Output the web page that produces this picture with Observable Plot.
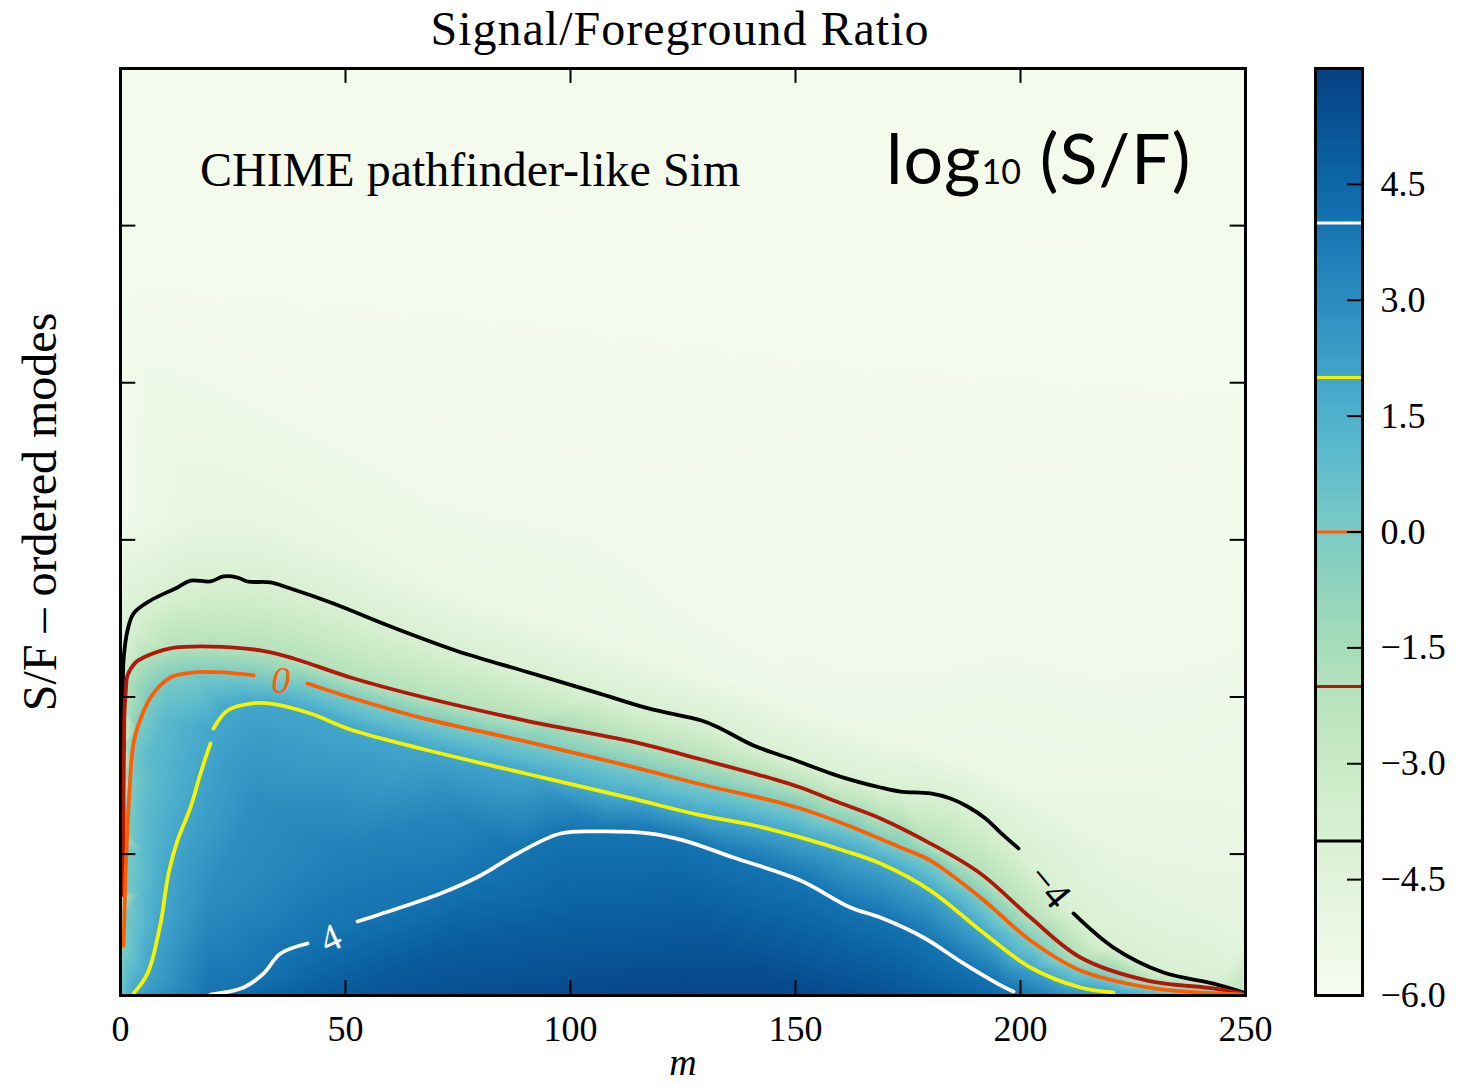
<!DOCTYPE html>
<html>
<head>
<meta charset="utf-8">
<script src="https://cdn.jsdelivr.net/npm/d3@7"></script>
<script src="https://cdn.jsdelivr.net/npm/@observablehq/plot@0.6"></script>
<style>
  body { margin: 0; background: #fff; }
  #wrap { position: relative; width: 1467px; height: 1087px; overflow: hidden; font-family: "Liberation Serif", serif; color: #000; }
  #title { position: absolute; left: 80px; width: 1200px; top: 5px; text-align: center; font-size: 48px; line-height: 1; letter-spacing: 1px; white-space: nowrap; }
  #sim { position: absolute; left: 200px; top: 146px; font-size: 48px; line-height: 1; white-space: nowrap; }
  #logtag { position: absolute; left: 886px; top: 122px; font-family: Lato, sans-serif; font-size: 70px; line-height: 1; letter-spacing: 1px; white-space: nowrap; }
  #logtag .sub { font-size: 34px; letter-spacing: 0; }
  #main { position: absolute; left: 0; top: 0; }
  #cbar { position: absolute; left: 1300px; top: 0; }
</style>
</head>
<body>
<div id="wrap">
  <div id="main"></div>
  <div id="cbar"></div>
  <div id="title">Signal/Foreground Ratio</div>
  <div id="sim">CHIME pathfinder-like Sim</div>
  <div id="logtag">log<span class="sub">10</span> (S/F)</div>
</div>
<script>
// ---------- data ----------
const xTicks = [0, 50, 100, 150, 200, 250];
const yTicks = [90, 190, 290, 390, 490];
const cbTicks = [-6, -4.5, -3, -1.5, 0, 1.5, 3, 4.5];
const levels = [-4, -2, 0, 2, 4];
const levelColors = ["#000000", "#b0180a", "#ff5e00", "#f4f400", "#ffffff"];

// contour paths [m, mode-rank]; null = gap where a contour label sits
const blackPts = [[0.44,95.5],[0.44,120],[0.44,140],[0.44,160],[0.44,180],[0.55,200],[0.67,213.2],[1.56,232.3],[2.89,243.1],[6.67,251.4],[12.67,259.7],[15.56,264.1],[20.0,263.5],[22.89,266.7],[26.0,266.0],[28.22,263.5],[33.33,262.9],[37.11,259.7],[47.33,249.5],[58.89,236.1],[74.44,219.6],[90.0,206.2],[105.78,192.8],[117.33,182.7],[129.11,175.0],[132.89,170.6],[140.67,159.1],[148.89,150.8],[160.67,138.7],[168.89,132.4],[173.33,129.8],[180.0,128.6],[184.44,125.4],[188.22,120.3],[192.22,112.7],[195.56,103.7],[199.56,93.6],null,[211.78,52.2],[220.67,30.5],[231.78,14.6],[242.89,7.6],[249.56,1.9]];
const darkRedPts = [[0.67,63.6],[0.67,80],[0.67,100],[0.67,120],[0.72,140],[0.8,160],[0.89,180],[1.2,195],[1.56,203.7],[3.33,211.9],[5.11,215.1],[11.11,220.9],[20.0,222.1],[31.11,219.6],[38.44,214.5],[51.11,202.4],[66.67,190.3],[90.0,175.0],[113.56,161.7],[129.11,150.2],[144.67,138.1],[151.11,132.4],[158.44,124.1],[168.89,112.7],[180.0,96.7],[191.11,77.6],[202.22,49.6],[213.33,24.2],[228.22,9.5],[242.89,4.5],[249.0,1.6]];
const orangePts = [[0.67,31.8],[0.85,50],[1.0,65],[1.15,80],[1.33,92.3],[1.5,105],[1.78,119.7],[2.1,135],[2.44,149.6],[3.0,162],[3.78,170.6],[6.67,189.7],[11.11,202.4],[16.22,205.6],[22.89,205.6],[29.56,203.7],null,[41.56,198.6],[51.11,189.7],[66.67,176.9],[90.0,161.7],[113.56,145.7],[129.11,134.3],[144.67,124.1],[151.11,119.0],[162.22,107.6],[173.33,94.2],[180.0,85.9],[191.11,62.4],[202.22,35.0],[213.33,15.9],[228.22,5.1],[239.33,1.9],[249.56,0.6]];
const yellowPts = [[2.89,1.3],[6.0,14.0],[8.89,45.8],[10.67,77.6],[12.67,98.7],[15.56,119.7],[17.78,141.3],[20.0,160.4],null,[20.67,169.9],[23.78,181.4],[28.89,185.8],[33.33,185.8],[42.22,179.5],[51.11,169.3],[66.67,157.2],[90.0,141.3],[113.56,125.4],[129.11,114.6],[140.89,108.2],[151.11,100.6],[160.67,92.3],[168.89,84.0],[180.0,66.8],[191.11,41.4],[202.22,17.8],[213.33,5.1],[220.67,1.9]];
const whitePts = [[20.0,0.6],[27.33,5.1],[31.78,14.0],[35.56,26.7],[41.56,33.1],null,[52.67,47.1],[62.22,56.0],[71.11,64.9],[80.0,76.4],[88.22,90.4],[97.78,103.1],[106.67,104.4],[117.78,103.1],[125.11,98.7],[136.22,87.8],[151.11,73.2],[162.22,56.0],[168.89,49.6],[178.44,36.9],[187.33,20.4],[194.89,7.6],[198.44,2.5]];

// other readings of log10(S/F) at [m, mode-rank, value]
const fieldAnchors = [
  [0,590,-5.8],[50,590,-5.8],[100,590,-5.8],[150,590,-5.8],[200,590,-5.8],[250,590,-5.8],
  [0,450,-5.75],[80,430,-5.75],[160,400,-5.75],[250,380,-5.75],
  [250,250,-5.6],[200,260,-5.65],[120,320,-5.7],[60,360,-5.7],
  [3,290,-5.2],[15,305,-5.1],[30,305,-5.1],[45,290,-5.15],[60,272,-5.2],[80,252,-5.3],[100,235,-5.35],
  [125,212,-5.45],[150,188,-5.5],[170,168,-5.45],[190,150,-5.35],[205,125,-5.2],[220,95,-5.0],
  [235,62,-4.85],[250,32,-4.7],[250,130,-5.3],[230,160,-5.45],
  [0,300,-5.6],[0,0,0.6],[1.5,15,0.8],
  [10,0,3.0],[30,0,4.5],[50,0,5.1],[75,0,5.45],[100,0,5.65],[125,0,5.8],[150,0,5.7],[170,0,5.35],
  [188,0,4.7],[210,0,2.8],[232,0,0.8],[250,0,-3.0],
  [70,25,5.0],[100,50,4.8],[130,45,5.0],[160,25,4.9],[45,10,4.7],
  [30,125,2.9],[48,95,3.4],[20,60,3.0],[75,115,3.3],
  [4,40,1.0],[4.5,65,1.0],[5,92,1.0],[5.5,120,1.0],[6,150,1.0],[8,140,1.1],[10,175,1.1]
];

// contour labels
const labelText = ["0", "4", "\u22124"];
const labelM = [35.6, 46.7, 206.4];
const labelY = [200.2, 36.3, 69.4];

const title = "Signal/Foreground Ratio";
const xLabel = "m";
const yLabel = "S/F \u2013 ordered modes";

// ---------- build ----------
const contours = [blackPts, darkRedPts, orangePts, yellowPts, whitePts];
const field = [];
contours.forEach((pts, i) => pts.forEach(p => { if (p) field.push({m: p[0], y: p[1], v: levels[i]}); }));
fieldAnchors.forEach(([m, y, v]) => field.push({m, y, v}));
const seg = pts => pts.map(p => p ? {m: p[0], y: p[1]} : {m: NaN, y: NaN});
const labels = labelText.map((t, i) => ({t, m: labelM[i], y: labelY[i]}));

const serif = "'Liberation Serif', 'Times New Roman', serif";

const main = Plot.plot({
  width: 1300, height: 1087,
  marginLeft: 120, marginRight: 55, marginTop: 68, marginBottom: 92,
  style: {fontFamily: serif, fontSize: "36px", color: "#000", background: "transparent"},
  x: {domain: [0, 250]},
  y: {domain: [0, 590], axis: null},
  color: {type: "linear", scheme: "gnbu", domain: [-6, 6]},
  marks: [
    Plot.raster(field, {x: "m", y: "y", fill: "v", interpolate: "barycentric", x1: 0, x2: 250, y1: 0, y2: 590}),
    ...contours.map((pts, i) => Plot.line(seg(pts), {x: "m", y: "y", stroke: levelColors[i], strokeWidth: 3.8, curve: "catmull-rom", clip: "frame"})),
    Plot.text([labels[0]], {x: "m", y: "y", text: "t", fill: levelColors[2], fontSize: 38, fontStyle: "italic"}),
    Plot.text([labels[1]], {x: "m", y: "y", text: "t", fill: levelColors[4], fontSize: 38, rotate: -24}),
    Plot.text([labels[2]], {x: "m", y: "y", text: "t", fill: levelColors[0], fontSize: 40, rotate: 50}),
    Plot.ruleX(xTicks, {y1: 0, y2: 9.5, strokeWidth: 2}),
    Plot.ruleX(xTicks, {y1: 580.5, y2: 590, strokeWidth: 2}),
    Plot.ruleY(yTicks, {x1: 0, x2: 3.4, strokeWidth: 2}),
    Plot.ruleY(yTicks, {x1: 246.6, x2: 250, strokeWidth: 2}),
    Plot.frame({strokeWidth: 3}),
    Plot.axisX(xTicks, {tickSize: 0, tickPadding: 20, fontSize: 36, label: null}),
    Plot.text([xLabel], {frameAnchor: "bottom", dy: 79, fontStyle: "italic", fontSize: 38}),
    Plot.text([yLabel], {frameAnchor: "left", textAnchor: "middle", dx: -80, dy: -20, rotate: -90, fontSize: 48})
  ]
});
document.getElementById("main").appendChild(main);

const fmt = d => (d < 0 ? "\u2212" : "") + Math.abs(d).toFixed(1);
const cbar = Plot.plot({
  width: 167, height: 1087,
  marginLeft: 15, marginRight: 105, marginTop: 68, marginBottom: 92,
  style: {fontFamily: serif, fontSize: "36px", color: "#000", background: "transparent"},
  x: {domain: [0, 1], axis: null},
  y: {domain: [-6, 6]},
  color: {type: "linear", scheme: "gnbu", domain: [-6, 6]},
  marks: [
    Plot.raster({fill: (x, y) => y, x1: 0, x2: 1, y1: -6, y2: 6}),
    ...levels.map((lv, i) => Plot.ruleY([lv], {stroke: levelColors[i], strokeWidth: 3})),
    Plot.ruleY(cbTicks, {x1: 0.68, x2: 1, strokeWidth: 2}),
    Plot.frame({strokeWidth: 3}),
    Plot.axisY(cbTicks, {anchor: "right", tickSize: 0, tickPadding: 18, tickFormat: fmt, fontSize: 36, label: null})
  ]
});
document.getElementById("cbar").appendChild(cbar);
</script>
</body>
</html>
